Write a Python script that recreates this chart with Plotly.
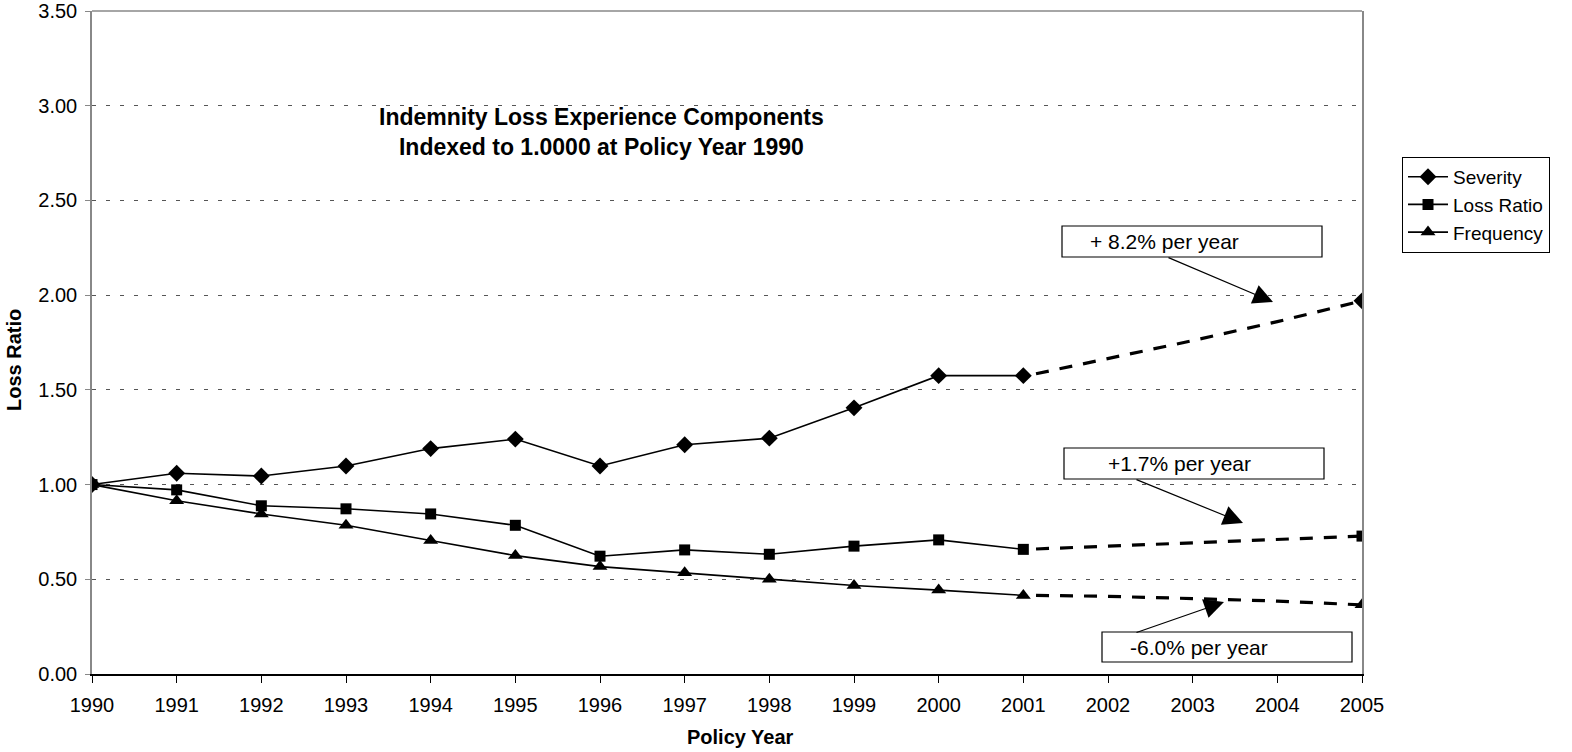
import plotly.graph_objects as go

years = [1990, 1991, 1992, 1993, 1994, 1995, 1996, 1997, 1998, 1999, 2000, 2001]
severity = [1.00, 1.06, 1.045, 1.098, 1.19, 1.24, 1.098, 1.21, 1.245, 1.405, 1.575, 1.575]
loss_ratio = [1.00, 0.972, 0.888, 0.872, 0.845, 0.785, 0.622, 0.655, 0.632, 0.675, 0.708, 0.658]
frequency = [1.00, 0.915, 0.845, 0.785, 0.705, 0.625, 0.567, 0.535, 0.50, 0.467, 0.443, 0.415]

trend_years = [2001.15, 2002, 2003, 2004, 2005]
severity_trend = [1.585, 1.665, 1.76, 1.86, 1.97]
loss_ratio_trend = [0.66, 0.675, 0.695, 0.713, 0.728]
frequency_trend = [0.415, 0.41, 0.398, 0.385, 0.365]

x_ticks = list(range(1990, 2006))
y_ticks = [0.0, 0.5, 1.0, 1.5, 2.0, 2.5, 3.0, 3.5]

series = [
    ("Severity", severity, severity_trend, "diamond", 13),
    ("Loss Ratio", loss_ratio, loss_ratio_trend, "square", 11),
    ("Frequency", frequency, frequency_trend, "triangle-up", 13),
]

FONT = "Liberation Sans, Arial, sans-serif"

fig = go.Figure()
for name, vals, trend, sym, sz in series:
    fig.add_trace(go.Scatter(
        x=years, y=vals, mode="lines+markers", name=name,
        line=dict(color="black", width=1.6),
        marker=dict(symbol=sym, size=sz, color="black"),
    ))
for name, vals, trend, sym, sz in series:
    fig.add_trace(go.Scatter(
        x=trend_years, y=trend, mode="lines", showlegend=False,
        line=dict(color="black", width=3.2, dash="13px,11px"),
    ))
    fig.add_trace(go.Scatter(
        x=[trend_years[-1]], y=[trend[-1]], mode="markers", showlegend=False,
        marker=dict(symbol=sym, size=sz, color="black"),
    ))

fig.update_layout(
    width=1572, height=752,
    margin=dict(l=92, r=210, t=11, b=78, autoexpand=False),
    paper_bgcolor="white", plot_bgcolor="white",
    font=dict(family=FONT, color="black", size=20),
    showlegend=True,
    legend=dict(
        x=1.0315, y=0.78, xanchor="left", yanchor="top",
        bordercolor="black", borderwidth=1, bgcolor="white",
        font=dict(size=19, family=FONT), tracegroupgap=0,
        itemwidth=40,
    ),
    xaxis=dict(
        range=[1990, 2005], tickvals=x_ticks, ticktext=[str(v) for v in x_ticks],
        showgrid=False, zeroline=False, showline=True, linecolor="black", linewidth=1.5,
        ticks="outside", ticklen=7, tickcolor="black", tickwidth=1,
        tickfont=dict(size=20, family=FONT), automargin=False, ticklabelstandoff=5,
    ),
    yaxis=dict(
        range=[0, 3.5], tickvals=y_ticks, ticktext=[f"{v:.2f}" for v in y_ticks],
        showgrid=True, gridcolor="#555555", gridwidth=1, griddash="4px,10px",
        zeroline=False, showline=True, linecolor="#888888", linewidth=1.5, mirror=True,
        ticks="outside", ticklen=5, tickcolor="#888888",
        tickfont=dict(size=20, family=FONT), automargin=False, ticklabelstandoff=4,
    ),
)

# top frame line
fig.add_shape(type="line", xref="paper", yref="paper", x0=0, x1=1, y0=1, y1=1,
              line=dict(color="#888888", width=1.5))

# title
fig.add_annotation(
    xref="paper", yref="paper", x=(601 - 92) / 1270, y=(674 - 132) / 663,
    xanchor="center", yanchor="middle",
    text="<b>Indemnity Loss Experience Components<br>Indexed to 1.0000 at Policy Year 1990</b>",
    showarrow=False, font=dict(size=23, family=FONT), align="center",
)
# axis titles
fig.add_annotation(
    xref="paper", yref="paper", x=(740 - 92) / 1270, y=(674 - 737) / 663,
    xanchor="center", yanchor="middle",
    text="<b>Policy Year</b>", showarrow=False, font=dict(size=20, family=FONT),
)
fig.add_annotation(
    xref="paper", yref="paper", x=(14 - 92) / 1270, y=(674 - 360) / 663,
    xanchor="center", yanchor="middle",
    text="<b>Loss Ratio</b>", textangle=-90, showarrow=False, font=dict(size=20, family=FONT),
)

def px_x(p):
    return 1990 + (p - 92) / (1270 / 15)

def px_y(p):
    return (674 - p) / (663 / 3.5)

boxes = [
    ("+ 8.2% per year", (1062, 226, 1322, 257), 1088, (1167, 257), (1273, 302)),
    ("+1.7% per year", (1064, 448, 1324, 479), 1106, (1135, 479), (1243, 523)),
    ("-6.0% per year", (1102, 632, 1352, 662), 1128, (1135, 633), (1224, 602)),
]
for text, (bx0, by0, bx1, by1), tx, (sx, sy), (ex, ey) in boxes:
    fig.add_shape(type="rect", xref="x", yref="y",
                  x0=px_x(bx0), x1=px_x(bx1), y0=px_y(by1), y1=px_y(by0),
                  line=dict(color="black", width=1.2), fillcolor="white", layer="above")
    fig.add_annotation(xref="x", yref="y", x=px_x(tx), y=px_y((by0 + by1) / 2),
                       text=text, showarrow=False, xanchor="left", yanchor="middle",
                       font=dict(size=21, family=FONT))
    fig.add_annotation(xref="x", yref="y", axref="x", ayref="y",
                       x=px_x(ex), y=px_y(ey), ax=px_x(sx), ay=px_y(sy),
                       text="", showarrow=True, arrowhead=2, arrowsize=3.3,
                       arrowwidth=1.2, arrowcolor="black", standoff=0)

fig.write_html("out.html")
